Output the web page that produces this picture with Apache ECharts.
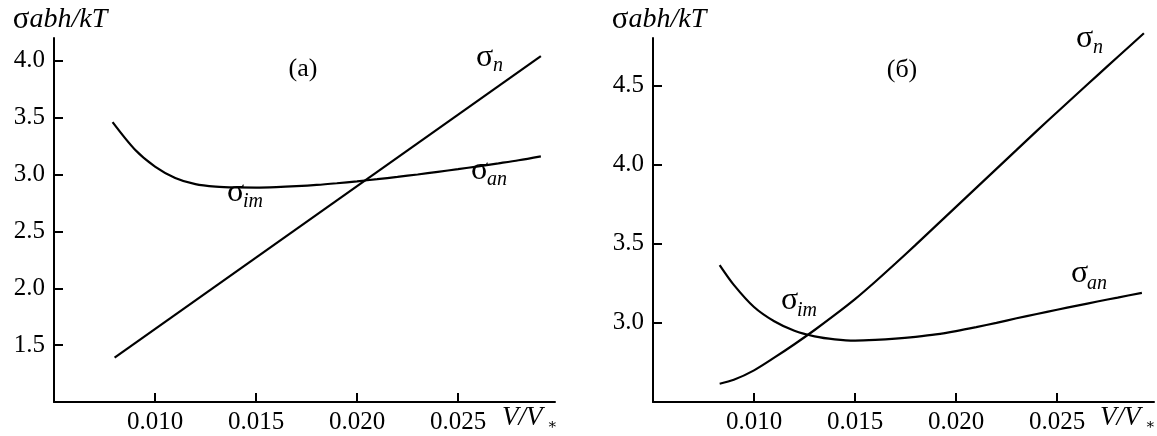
<!DOCTYPE html>
<html><head><meta charset="utf-8">
<script src="https://cdn.jsdelivr.net/npm/echarts@6/dist/echarts.min.js"></script>
<style>html,body{margin:0;padding:0;background:#fff}#c{width:1157px;height:436px}</style>
</head><body><div id="c"></div>
<script>
// ---- tick values ----
const xTicks = [0.010, 0.015, 0.020, 0.025];
const yTicksA = [1.5, 2.0, 2.5, 3.0, 3.5, 4.0];
const yTicksB = [3.0, 3.5, 4.0, 4.5];

// ---- panel (а) ----
const xA_n = [0.0080, 0.0291];
const yA_n = [1.39, 4.04];
const xA_im = [0.0079, 0.009, 0.010, 0.011, 0.012, 0.013, 0.014, 0.015, 0.016, 0.017, 0.018, 0.019, 0.020, 0.021, 0.022, 0.023, 0.024, 0.025, 0.026, 0.027, 0.028, 0.0291];
const yA_im = [3.46, 3.22, 3.07, 2.97, 2.915, 2.893, 2.886, 2.885, 2.889, 2.897, 2.908, 2.923, 2.94, 2.959, 2.979, 3.00, 3.023, 3.047, 3.072, 3.098, 3.125, 3.16];

// ---- panel (б) ----
const xB_n = [0.0083, 0.009, 0.010, 0.011, 0.012, 0.013, 0.014, 0.015, 0.016, 0.017, 0.018, 0.019, 0.020, 0.021, 0.022, 0.023, 0.024, 0.025, 0.026, 0.027, 0.028, 0.0293];
const yB_n = [2.615, 2.64, 2.70, 2.78, 2.865, 2.955, 3.05, 3.15, 3.26, 3.375, 3.493, 3.613, 3.733, 3.853, 3.973, 4.093, 4.213, 4.331, 4.448, 4.564, 4.68, 4.83];
const xB_im = [0.0083, 0.009, 0.010, 0.011, 0.012, 0.013, 0.014, 0.015, 0.016, 0.017, 0.018, 0.019, 0.020, 0.021, 0.022, 0.023, 0.024, 0.025, 0.026, 0.027, 0.028, 0.0292];
const yB_im = [3.365, 3.24, 3.10, 3.01, 2.95, 2.915, 2.896, 2.888, 2.892, 2.90, 2.912, 2.927, 2.948, 2.973, 3.0, 3.029, 3.056, 3.083, 3.109, 3.135, 3.16, 3.19];

const pairs = (xs, ys) => xs.map((x, i) => [x, ys[i]]);
const SERIF = '"Liberation Serif", "DejaVu Serif", serif';
const FS = 25;

function xAxisCfg(idx) {
  return {
    type: 'value', gridIndex: idx, min: 0.005, max: 0.0298,
    axisLine: { onZero: false, lineStyle: { color: '#000', width: 2 } },
    axisTick: { inside: true, length: 9, customValues: xTicks, lineStyle: { color: '#000', width: 2 } },
    axisLabel: { customValues: xTicks, formatter: v => v.toFixed(3), fontFamily: SERIF, fontSize: FS, color: '#000', margin: 8 },
    splitLine: { show: false }
  };
}
function yAxisCfg(idx, min, max, ticks) {
  return {
    type: 'value', gridIndex: idx, min: min, max: max,
    name: '{s|σ}{i|abh/kT}', nameLocation: 'end', nameGap: 3,
    nameTextStyle: { align: 'center', padding: [0, 0, 0, 12], rich: {
      s: { fontFamily: SERIF, fontSize: 31, color: '#000' },
      i: { fontFamily: SERIF, fontSize: 28, fontStyle: 'italic', color: '#000' }
    } },
    axisLine: { onZero: false, lineStyle: { color: '#000', width: 2 } },
    axisTick: { inside: true, length: 9, customValues: ticks, lineStyle: { color: '#000', width: 2 } },
    axisLabel: { customValues: ticks, formatter: v => v.toFixed(1), fontFamily: SERIF, fontSize: FS, color: '#000', margin: 9 },
    splitLine: { show: false }
  };
}
function line(name, xi, data, clip) {
  return { name: name, type: 'line', xAxisIndex: xi, yAxisIndex: xi, data: data, smooth: 0.3,
    showSymbol: false, clip: clip, lineStyle: { color: '#000', width: 2.2 }, silent: true, animation: false };
}
function txt(x, y, text, size, italic, align) {
  return { type: 'text', x: x, y: y, silent: true, style: {
    text: text, fill: '#000', font: (italic ? 'italic ' : '') + size + 'px ' + SERIF,
    align: align || 'left', verticalAlign: 'middle' } };
}

const chart = echarts.init(document.getElementById('c'), null, { renderer: 'canvas' });
chart.setOption({
  animation: false,
  backgroundColor: '#fff',
  grid: [
    { left: 54, top: 38, width: 501, height: 364 },
    { left: 653, top: 38, width: 501, height: 364 }
  ],
  xAxis: [xAxisCfg(0), xAxisCfg(1)],
  yAxis: [yAxisCfg(0, 1.0, 4.2, yTicksA), yAxisCfg(1, 2.5, 4.8, yTicksB)],
  series: [
    line('σn (а)', 0, pairs(xA_n, yA_n), true),
    line('σim/σan (а)', 0, pairs(xA_im, yA_im), true),
    line('σn (б)', 1, pairs(xB_n, yB_n), false),
    line('σim/σan (б)', 1, pairs(xB_im, yB_im), true)
  ],
  graphic: [
    txt(303, 69, '(а)', 26, false, 'center'),
    txt(476, 58, 'σ', 32, false), txt(493, 66, 'n', 20, true),
    txt(471, 171, 'σ', 32, false), txt(487, 180, 'an', 20, true),
    txt(227, 193, 'σ', 32, false), txt(243, 202, 'im', 20, true),
    txt(502, 418, 'V/V', 27, true), txt(547, 425, '∗', 15, false),
    txt(902, 70, '(б)', 26, false, 'center'),
    txt(1076, 39, 'σ', 32, false), txt(1093, 48, 'n', 20, true),
    txt(1071, 274, 'σ', 32, false), txt(1087, 284, 'an', 20, true),
    txt(781, 301, 'σ', 32, false), txt(797, 311, 'im', 20, true),
    txt(1100, 418, 'V/V', 27, true), txt(1145, 425, '∗', 15, false)
  ]
});
</script></body></html>
